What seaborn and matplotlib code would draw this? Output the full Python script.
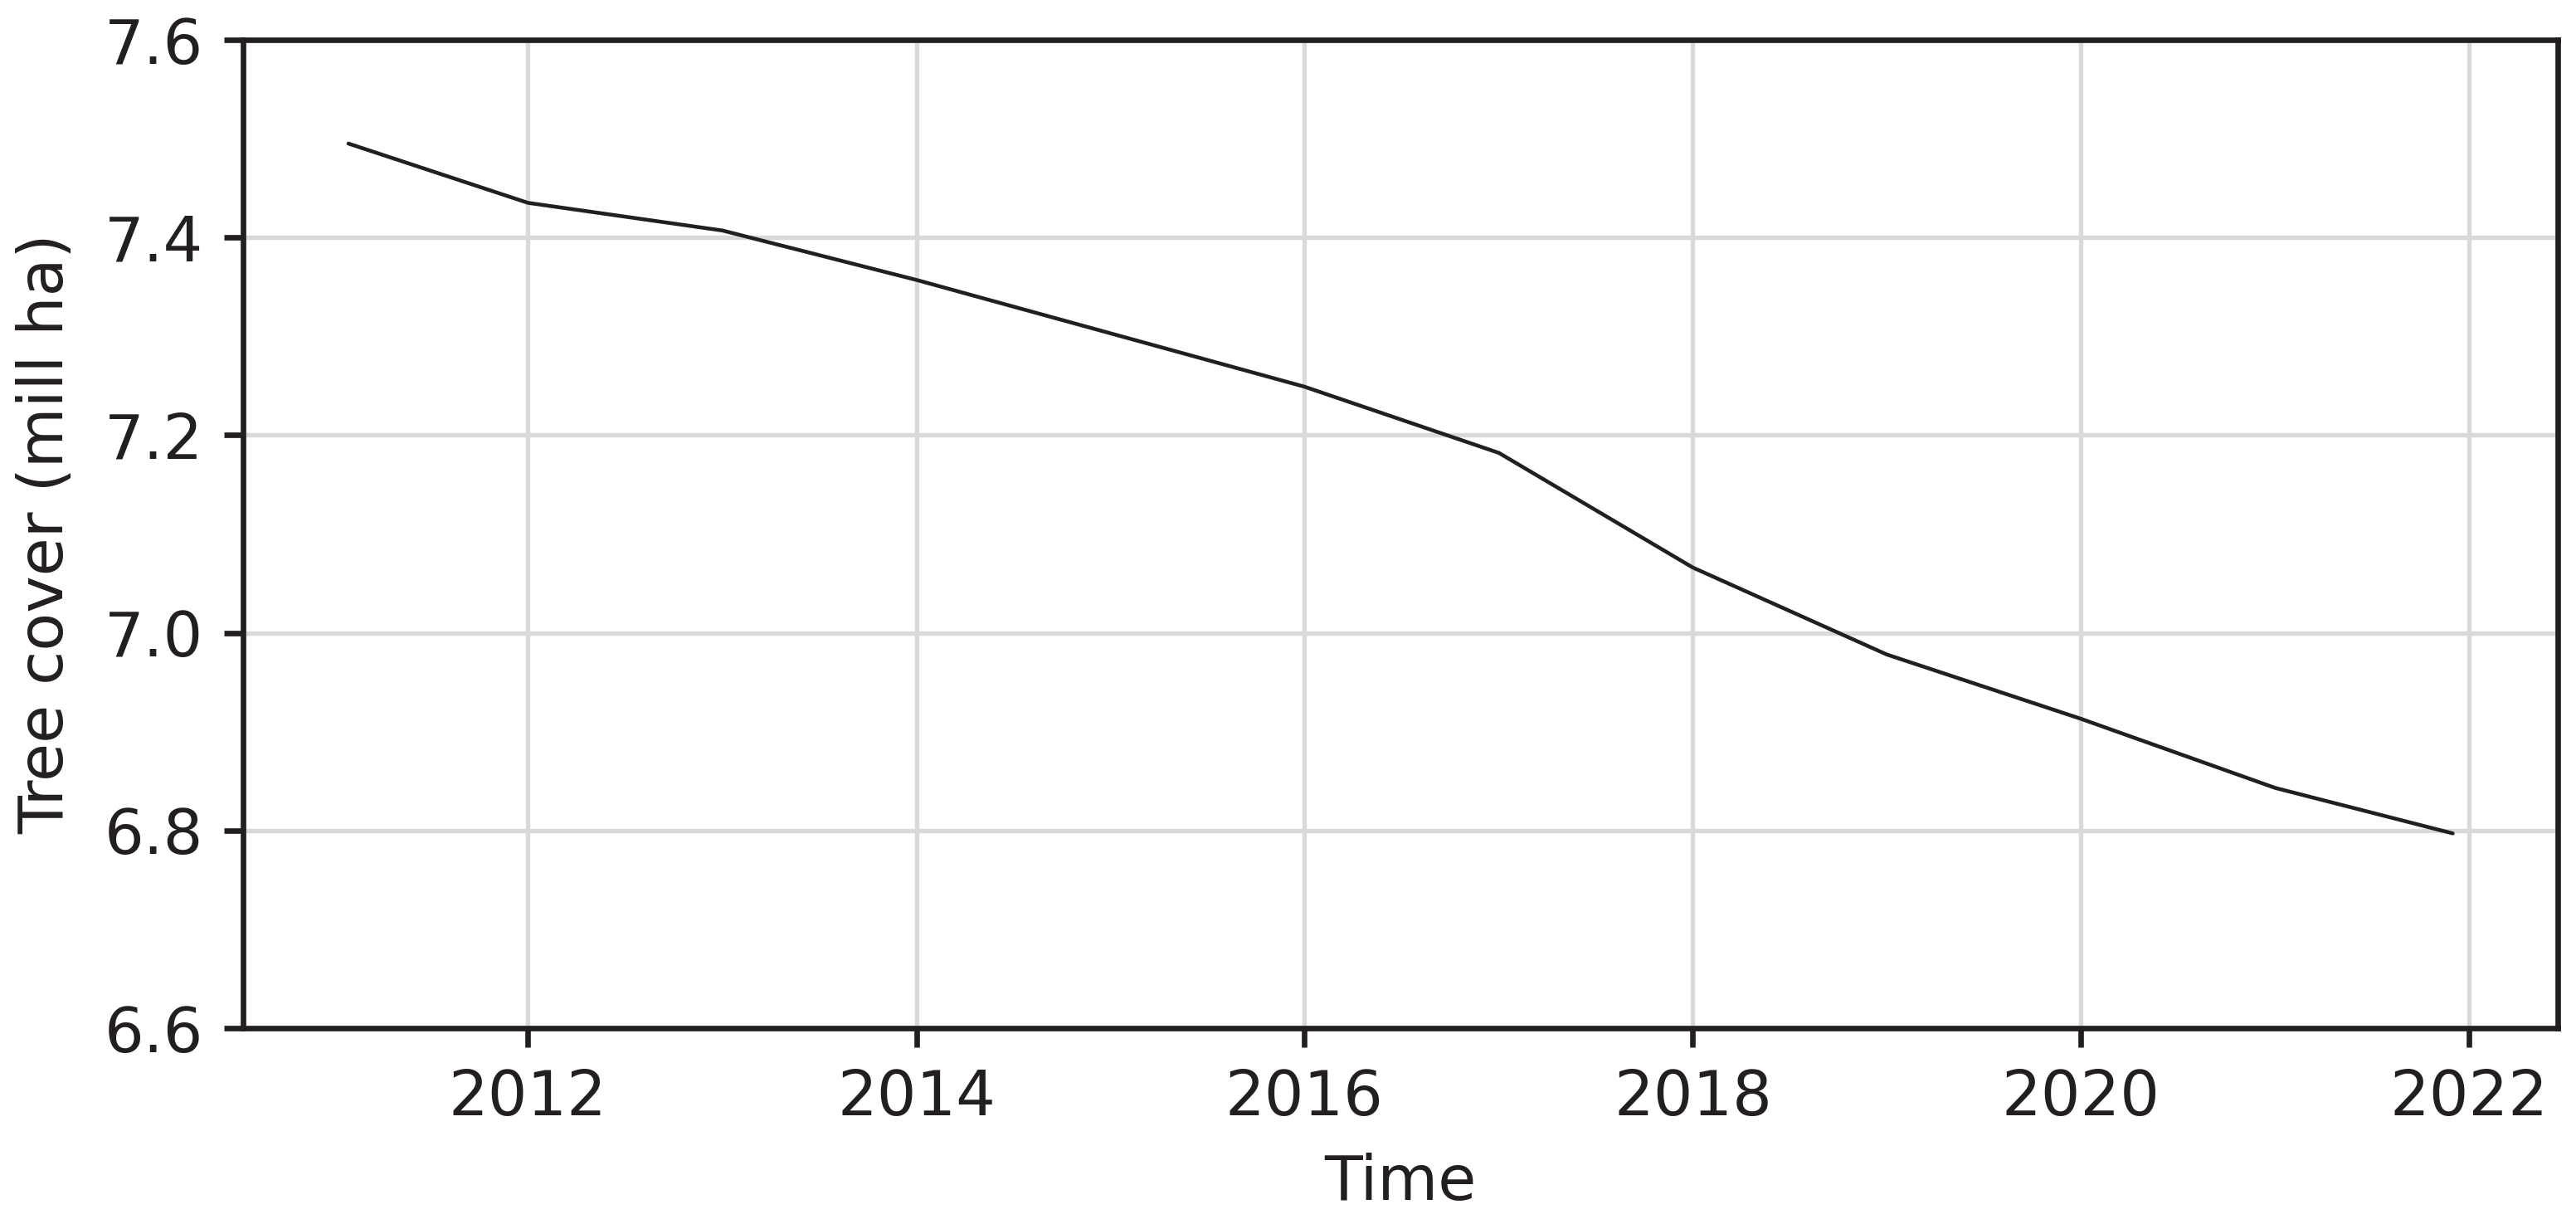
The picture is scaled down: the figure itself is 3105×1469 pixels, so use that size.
import matplotlib
matplotlib.use("Agg")
import matplotlib.pyplot as plt
import matplotlib.dates as mdates
import seaborn as sns
import pandas as pd

dates = ["2011-01-28", "2012-01-01", "2013-01-01", "2014-01-01", "2015-01-01",
         "2016-01-01", "2017-01-01", "2018-01-01", "2019-01-01", "2020-01-01",
         "2021-01-01", "2021-12-01"]
tree_cover = [7.495, 7.435, 7.407, 7.357, 7.303, 7.249, 7.182, 7.066, 6.978,
              6.913, 6.843, 6.797]

df = pd.DataFrame({"Time": pd.to_datetime(dates), "cover": tree_cover})

ink = "#231f20"
sns.set_style("ticks")
plt.rcParams["font.family"] = ["DejaVu Sans"]
plt.rcParams["text.color"] = ink
plt.rcParams["axes.labelcolor"] = ink
plt.rcParams["xtick.color"] = ink
plt.rcParams["ytick.color"] = ink
plt.rcParams["axes.edgecolor"] = ink

fig = plt.figure(figsize=(10.35, 4.897), dpi=300)
ax = fig.add_axes([0.0944, 0.1566, 0.8986, 0.8107])
sns.lineplot(data=df, x="Time", y="cover", color=ink, linewidth=1.1, ax=ax)

ax.set_ylim(6.6, 7.6)
ax.set_yticks([6.6, 6.8, 7.0, 7.2, 7.4, 7.6])
ax.yaxis.set_major_formatter(matplotlib.ticker.FormatStrFormatter("%.1f"))
ax.xaxis.set_major_locator(mdates.YearLocator(2))
ax.xaxis.set_major_formatter(mdates.DateFormatter("%Y"))

ax.grid(True, color="#d9d9db", linewidth=1.3)
ax.set_axisbelow(True)
for s in ax.spines.values():
    s.set_linewidth(1.6)
    s.set_visible(True)
ax.tick_params(labelsize=18, width=1.6, length=5.5, pad=6)
ax.set_xlabel("Time", fontsize=18, labelpad=7)
ax.set_ylabel("Tree cover (mill ha)", fontsize=18, labelpad=8)

fig.savefig("out.png", dpi=300)
